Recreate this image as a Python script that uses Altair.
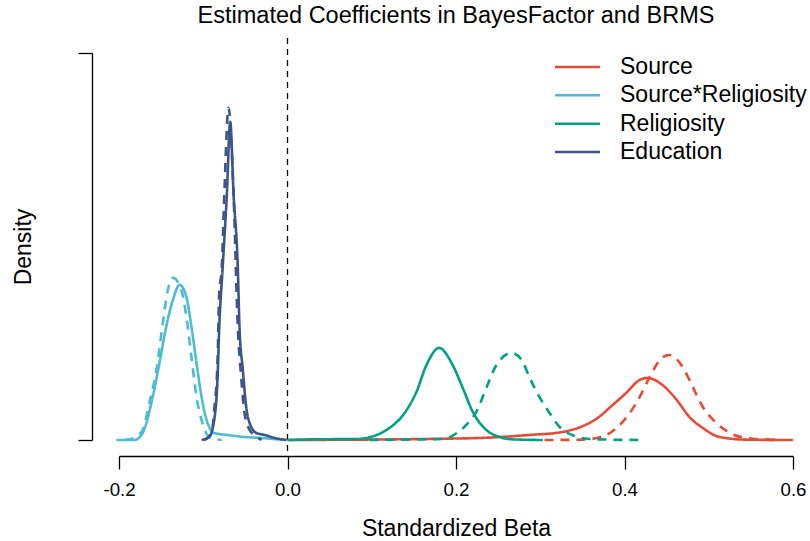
import altair as alt
import pandas as pd

variables = ["Source", "Source*Religiosity", "Religiosity", "Education"]
colors = ["#E64B35", "#4DBBD5", "#00A087", "#3C5488"]
models = ["BayesFactor", "BRMS"]
x_ticks = [-0.2, 0.0, 0.2, 0.4, 0.6]

# Source
source_bf_x = [0.0, 0.189, 0.228, 0.287, 0.326, 0.347, 0.367, 0.386, 0.402, 0.418, 0.427, 0.445, 0.462, 0.477, 0.493, 0.513, 0.545, 0.600]
source_bf_d = [0.0, 0.2, 0.3, 0.75, 1.2, 1.9, 3.2, 5.25, 7.05, 9.0, 9.3, 8.25, 6.0, 3.45, 1.8, 0.45, 0.05, 0.0]
source_brms_x = [0.305, 0.350, 0.374, 0.390, 0.406, 0.418, 0.430, 0.442, 0.453, 0.469, 0.481, 0.493, 0.509, 0.525, 0.545, 0.569, 0.584]
source_brms_d = [0.0, 0.05, 0.5, 1.75, 4.0, 6.45, 9.45, 12.0, 12.75, 10.95, 7.95, 4.95, 2.55, 1.05, 0.3, 0.05, 0.0]

# Source*Religiosity
inter_bf_x = [-0.203, -0.182, -0.172, -0.160, -0.152, -0.144, -0.136, -0.128, -0.120, -0.114, -0.108, -0.102, -0.096, -0.087, -0.071, -0.051, -0.031, -0.004]
inter_bf_d = [0.0, 0.0, 1.05, 6.45, 11.55, 16.95, 21.0, 23.25, 21.45, 16.95, 11.55, 6.45, 3.0, 1.05, 0.75, 0.45, 0.3, 0.0]
inter_brms_x = [-0.193, -0.182, -0.172, -0.164, -0.155, -0.148, -0.142, -0.136, -0.126, -0.120, -0.114, -0.108, -0.101, -0.093, -0.078]
inter_brms_d = [0.0, 0.3, 1.5, 5.55, 10.95, 17.55, 22.5, 24.3, 22.5, 18.45, 12.45, 6.45, 2.55, 0.45, 0.0]

# Religiosity
relig_bf_x = [0.0, 0.030, 0.082, 0.106, 0.121, 0.139, 0.153, 0.165, 0.180, 0.196, 0.208, 0.220, 0.236, 0.252, 0.267, 0.303]
relig_bf_d = [0.0, 0.1, 0.15, 0.75, 1.8, 4.05, 7.2, 11.25, 13.8, 11.25, 7.8, 4.2, 1.5, 0.45, 0.1, 0.0]
relig_brms_x = [0.097, 0.160, 0.184, 0.201, 0.212, 0.224, 0.236, 0.248, 0.266, 0.278, 0.287, 0.299, 0.311, 0.323, 0.338, 0.358, 0.386, 0.420]
relig_brms_d = [0.0, 0.1, 0.15, 1.05, 2.25, 4.2, 7.8, 11.25, 13.05, 12.0, 9.45, 6.45, 4.05, 1.95, 0.75, 0.15, 0.05, 0.0]

# Education
educ_bf_x = [-0.102, -0.093, -0.087, -0.083, -0.081, -0.077, -0.072, -0.068, -0.064, -0.059, -0.057, -0.053, -0.049, -0.045, -0.037, -0.027, -0.015, -0.001]
educ_bf_d = [0.0, 0.45, 3.0, 9.45, 16.95, 25.8, 36.75, 47.7, 36.75, 25.8, 16.95, 10.5, 4.95, 2.55, 1.05, 0.75, 0.3, 0.0]
educ_brms_x = [-0.099, -0.090, -0.087, -0.083, -0.081, -0.078, -0.075, -0.070, -0.064, -0.059, -0.055, -0.051, -0.045, -0.039, -0.031]
educ_brms_d = [0.0, 1.05, 4.5, 12.0, 22.05, 25.8, 36.75, 49.8, 36.75, 16.95, 9.45, 4.05, 1.5, 0.75, 0.0]

curves = [
    ("Source", "BayesFactor", source_bf_x, source_bf_d),
    ("Source", "BRMS", source_brms_x, source_brms_d),
    ("Source*Religiosity", "BayesFactor", inter_bf_x, inter_bf_d),
    ("Source*Religiosity", "BRMS", inter_brms_x, inter_brms_d),
    ("Religiosity", "BayesFactor", relig_bf_x, relig_bf_d),
    ("Religiosity", "BRMS", relig_brms_x, relig_brms_d),
    ("Education", "BayesFactor", educ_bf_x, educ_bf_d),
    ("Education", "BRMS", educ_brms_x, educ_brms_d),
]
rows = []
for var, mod, xs, ds in curves:
    for xv, dv in zip(xs, ds):
        rows.append({"variable": var, "model": mod, "curve": var + "|" + mod, "beta": xv, "density": dv})
df = pd.DataFrame(rows)
legend_df = pd.DataFrame({"variable": variables})

FONT = "Liberation Sans"
color_scale = alt.Scale(domain=variables, range=colors)

lines = alt.Chart(df).mark_line(strokeWidth=2.6, interpolate="monotone", clip=False).encode(
    x=alt.X("beta:Q",
            scale=alt.Scale(domain=[-0.2, 0.6], nice=False, zero=False),
            axis=alt.Axis(values=x_ticks, offset=16, tickSize=13, labelPadding=11, grid=False,
                          labelFlush=False, labelOverlap=False,
                          labelFontSize=18.7, titleFontSize=23, titlePadding=19,
                          labelFont=FONT, titleFont=FONT, titleFontWeight="normal",
                          domainColor="black", tickColor="black", labelColor="black", titleColor="black",
                          domainWidth=1.3, tickWidth=1.3,
                          labelExpr="datum.value < 0 ? '-' + format(-datum.value, '.1f') : format(datum.value, '.1f')"),
            title="Standardized Beta"),
    y=alt.Y("density:Q",
            scale=alt.Scale(domain=[0, 58], nice=False, zero=False),
            axis=alt.Axis(values=[0, 58], offset=27, tickSize=14, labels=False, grid=False,
                          titleFontSize=23, titlePadding=42, titleFont=FONT, titleFontWeight="normal",
                          domainColor="black", tickColor="black", titleColor="black",
                          domainWidth=1.3, tickWidth=1.3),
            title="Density"),
    color=alt.Color("variable:N", scale=color_scale, legend=None),
    strokeDash=alt.StrokeDash("model:N",
                              scale=alt.Scale(domain=models, range=[[1, 0], [9, 7]]),
                              legend=None),
    detail="curve:N",
)

zero_df = pd.DataFrame({"beta": [0.0]})
vline = alt.Chart(zero_df).mark_rule(color="black", strokeDash=[6, 5], strokeWidth=1.3).encode(
    x="beta:Q", y=alt.value(-15), y2=alt.value(403)
)

# legend drawn as a small layer: one row per variable, rows placed by a point scale
legend_y = alt.Y("variable:N",
                 scale=alt.Scale(type="point", domain=variables, range=[14, 99], padding=0),
                 axis=None)
legend_lines = alt.Chart(legend_df).mark_rule(strokeWidth=2.5).encode(
    x=alt.value(436), x2=alt.value(481), y=legend_y,
    color=alt.Color("variable:N", scale=color_scale, legend=None),
)
legend_text = alt.Chart(legend_df).mark_text(align="left", baseline="middle", fontSize=23,
                                             font=FONT, color="black").encode(
    x=alt.value(501), y=legend_y, text="variable:N",
)

chart = alt.layer(vline, lines, legend_lines, legend_text).resolve_scale(
    y="independent"
).resolve_axis(y="independent").properties(
    width=674, height=387,
    background="white",
    autosize=alt.AutoSizeParams(type="none"),
    padding={"left": 119, "top": 53, "right": 17, "bottom": 101},
    title=alt.Title("Estimated Coefficients in BayesFactor and BRMS", fontSize=23.5, font=FONT,
                    fontWeight="normal", anchor="middle", offset=10, color="black"),
).configure_view(stroke=None).configure_axis(grid=False)

chart.save("out.html", embed_options={"renderer": "svg", "actions": False})
